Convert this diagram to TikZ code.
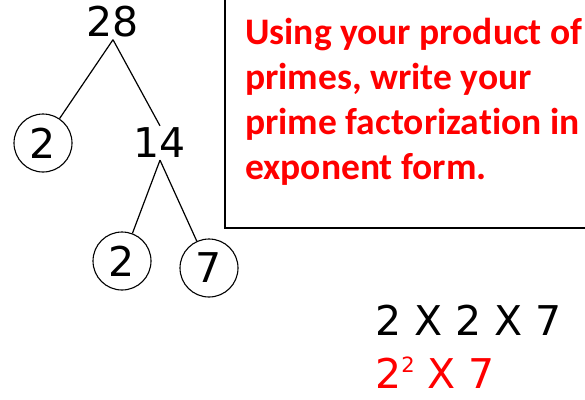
\documentclass[tikz,border=0pt]{standalone}
\usepackage{fontspec}
\usepackage{tikz}
\newfontfamily\numfont{DejaVu Sans}
\newfontfamily\notefont[Ligatures=NoCommon]{Carlito}
\definecolor{notered}{RGB}{255,0,0}

\begin{document}
\begin{tikzpicture}[
    x=1pt,y=-1pt,
    num/.style={font=\numfont\fontsize{41}{41}\selectfont,inner sep=2pt},
    ring/.style={num,circle,draw=black,line width=1.1pt,minimum size=58pt,inner sep=0pt},
    branch/.style={draw=black,line width=1.2pt},
    note/.style={font=\notefont\bfseries\fontsize{37.5}{45}\selectfont,text=notered,
      align=left,anchor=north west,inner sep=0pt},
    prod/.style={font=\numfont\fontsize{41}{41}\selectfont,anchor=base west,inner sep=0pt}
  ]
    \useasboundingbox (0,0) rectangle (585,399);
    % factor tree
    \node[num] (n28) at (113,22) {28};
    \node[ring] (twoA) at (43,143) {2};
    \node[num] (n14) at (160,143) {14};
    \node[ring] (twoB) at (122,261) {2};
    \node[ring] (seven) at (209,268) {7};
    \draw[branch] (n28.south) -- (twoA);
    \draw[branch] (n28.south) -- (n14.north);
    \draw[branch] (n14.south) -- (twoB);
    \draw[branch] (n14.south) -- (seven);
    % question box
    \draw[line width=1.3pt] (225,-2) -- (225,228) -- (587,228);
    \node[note] (task) at (245,18) {Using your product of\\primes, write your\\prime factorization in\\exponent form.};
    % answer
    \node[prod] (expand) at (375,335) {2 X 2 X 7};
    \node[prod,text=notered] (expo) at (375,388) {2\raisebox{0.38em}{\fontsize{21}{21}\selectfont 2} X 7};
  \end{tikzpicture}
\end{document}
